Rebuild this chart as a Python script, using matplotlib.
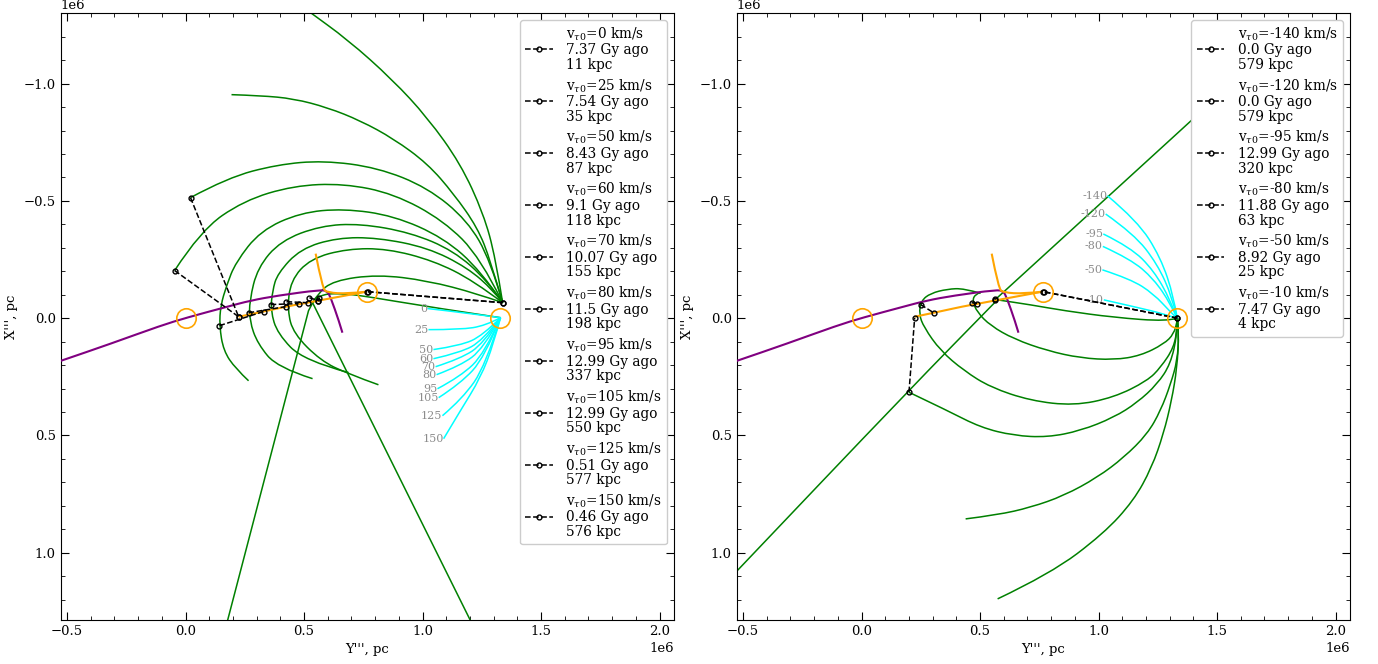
import matplotlib
matplotlib.use("Agg")
import matplotlib.pyplot as plt
from matplotlib.ticker import MultipleLocator
from matplotlib.path import Path
from matplotlib.patches import PathPatch

plt.rcParams["font.family"] = "DejaVu Serif"
plt.rcParams["mathtext.fontset"] = "dejavuserif"
plt.rcParams["font.size"] = 9.5

PC = 1e6  # all coordinates below are in units of 1e6 pc

# ---- tracks common to both panels
purple_x = [-0.611, -0.523, -0.316, -0.105, 0.004, 0.177, 0.274, 0.388, 0.570, 0.598, 0.612, 0.647, 0.662]
purple_y = [0.211, 0.181, 0.109, 0.032, -0.002, -0.049, -0.075, -0.096, -0.121, -0.115, -0.089, 0.011, 0.062]
orange_x = [0.224, 0.329, 0.422, 0.515, 0.561, 0.764]
orange_y = [-0.006, -0.028, -0.049, -0.066, -0.075, -0.113]
orange_hook_x = [0.549, 0.578, 0.599, 0.684, 0.764]
orange_hook_y = [-0.275, -0.126, -0.109, -0.104, -0.113]

# ---- left panel: v_tau0 >= 0
left_vel = [0, 25, 50, 60, 70, 80, 95, 105, 125, 150]
left_ago = [7.37, 7.54, 8.43, 9.1, 10.07, 11.5, 12.99, 12.99, 0.51, 0.46]
left_dist = [11, 35, 87, 118, 155, 198, 337, 550, 577, 576]
left_gal_x = [0.565, 0.523, 0.426, 0.359, 0.266, 0.143, -0.046, 0.021, 1.338, 1.338]
left_gal_y = [-0.087, -0.087, -0.070, -0.058, -0.023, 0.032, -0.203, -0.514, -0.066, -0.066]
left_m31_x = [0.561, 0.561, 0.515, 0.477, 0.422, 0.329, 0.224, 0.224, 0.764, 0.768]
left_m31_y = [-0.075, -0.075, -0.066, -0.062, -0.049, -0.028, -0.006, -0.006, -0.113, -0.113]
left_circ_x = [0.0, 0.764, 1.329]
left_circ_y = [0.0, -0.113, -0.002]

left_orbit_x = {
    0: [1.370, 0.536, 0.536, 0.578, 0.675, 0.768, 1.046, 1.329],
    25: [0.089, 0.519, 0.519, 0.557, 0.624, 0.810, 1.021, 1.232, 1.338],
    50: [0.814, 0.684, 0.570, 0.456, 0.430, 0.443, 0.527, 0.684, 0.852, 1.046, 1.215, 1.338],
    60: [0.688, 0.498, 0.388, 0.359, 0.367, 0.388, 0.485, 0.641, 0.810, 1.021, 1.190, 1.300, 1.338],
    70: [0.536, 0.388, 0.304, 0.270, 0.270, 0.304, 0.401, 0.570, 0.738, 0.949, 1.131, 1.274, 1.338],
    80: [0.266, 0.211, 0.160, 0.143, 0.148, 0.173, 0.211, 0.316, 0.485, 0.667, 0.878, 1.089, 1.245, 1.338],
    95: [-0.046, 0.063, 0.245, 0.456, 0.667, 0.878, 1.089, 1.245, 1.338],
    105: [0.021, 0.177, 0.388, 0.582, 0.810, 1.021, 1.190, 1.287, 1.338],
    125: [0.194, 0.316, 0.456, 0.599, 0.738, 0.878, 1.021, 1.131, 1.232, 1.287, 1.338],
    150: [0.443, 0.515, 0.684, 0.873, 1.021, 1.160, 1.257, 1.308, 1.338],
}
left_orbit_y = {
    0: [1.631, -0.066, -0.066, -0.104, -0.104, -0.092, -0.045, -0.002],
    25: [1.631, -0.032, -0.032, -0.104, -0.160, -0.186, -0.160, -0.104, -0.066],
    50: [0.284, 0.237, 0.181, 0.066, -0.032, -0.160, -0.254, -0.296, -0.296, -0.245, -0.160, -0.066],
    60: [0.232, 0.181, 0.066, -0.032, -0.117, -0.190, -0.296, -0.343, -0.343, -0.301, -0.215, -0.117, -0.066],
    70: [0.258, 0.211, 0.109, 0.011, -0.075, -0.215, -0.330, -0.394, -0.403, -0.365, -0.288, -0.160, -0.066],
    80: [0.267, 0.215, 0.139, 0.032, -0.053, -0.139, -0.237, -0.373, -0.450, -0.467, -0.437, -0.343, -0.203, -0.066],
    95: [-0.203, -0.373, -0.501, -0.565, -0.574, -0.531, -0.416, -0.258, -0.066],
    105: [-0.514, -0.599, -0.655, -0.672, -0.642, -0.557, -0.416, -0.245, -0.066],
    125: [-0.953, -0.949, -0.936, -0.898, -0.842, -0.765, -0.659, -0.531, -0.386, -0.245, -0.066],
    150: [-1.367, -1.311, -1.188, -1.017, -0.855, -0.659, -0.446, -0.258, -0.066],
}
left_start_x = {
    0: [1.021, 1.181, 1.329],
    25: [1.025, 1.160, 1.266, 1.329],
    50: [1.046, 1.160, 1.253, 1.329],
    60: [1.046, 1.160, 1.253, 1.329],
    70: [1.055, 1.160, 1.257, 1.329],
    80: [1.059, 1.160, 1.257, 1.329],
    95: [1.063, 1.160, 1.262, 1.329],
    105: [1.068, 1.160, 1.262, 1.329],
    125: [1.084, 1.169, 1.266, 1.329],
    150: [1.089, 1.160, 1.245, 1.300, 1.329],
}
left_start_y = {
    0: [-0.041, -0.023, -0.002],
    25: [0.049, 0.049, 0.032, -0.002],
    50: [0.134, 0.117, 0.075, -0.002],
    60: [0.173, 0.147, 0.096, -0.002],
    70: [0.207, 0.173, 0.109, -0.002],
    80: [0.241, 0.203, 0.130, -0.002],
    95: [0.301, 0.249, 0.151, -0.002],
    105: [0.339, 0.279, 0.168, -0.002],
    125: [0.416, 0.343, 0.203, -0.002],
    150: [0.514, 0.394, 0.254, 0.109, -0.002],
}

# ---- right panel: v_tau0 < 0
right_vel = [-140, -120, -95, -80, -50, -10]
right_ago = [0.0, 0.0, 12.99, 11.88, 8.92, 7.47]
right_dist = [579, 579, 320, 63, 25, 4]
right_gal_x = [1.333, 1.333, 0.200, 0.249, 0.464, 0.565]
right_gal_y = [0.0, 0.0, 0.316, -0.058, -0.066, -0.083]
right_m31_x = [0.768, 0.764, 0.224, 0.304, 0.489, 0.561]
right_m31_y = [-0.113, -0.113, -0.002, -0.023, -0.062, -0.079]
right_circ_x = [0.0, 0.764, 1.333]
right_circ_y = [0.0, -0.113, 0.0]

right_orbit_x = {
    -140: [1.333, 1.339, 1.331, 1.308, 1.274, 1.224, 1.148, 1.021, 0.797, 0.574],
    -120: [1.333, 1.339, 1.332, 1.304, 1.262, 1.206, 1.107, 0.995, 0.854, 0.713, 0.573, 0.439],
    -95: [1.333, 1.332, 1.304, 1.248, 1.163, 1.065, 0.924, 0.784, 0.643, 0.502, 0.362, 0.200],
    -80: [1.333, 1.332, 1.318, 1.262, 1.206, 1.065, 0.896, 0.713, 0.544, 0.432, 0.333, 0.263,
          0.242, 0.252, 0.291, 0.362, 0.432, 0.502],
    -50: [1.333, 1.332, 1.318, 1.276, 1.177, 1.065, 0.924, 0.784, 0.643, 0.544, 0.488, 0.467, 0.481, 0.502],
    -10: [1.333, 1.291, 1.065, 0.854, 0.713, 0.573, 0.573, 0.198, -0.525, -0.681],
}
right_orbit_y = {
    -140: [0.0, 0.067, 0.212, 0.352, 0.493, 0.638, 0.778, 0.919, 1.090, 1.197],
    -120: [0.0, 0.067, 0.181, 0.281, 0.394, 0.494, 0.594, 0.679, 0.757, 0.807, 0.839, 0.856],
    -95: [0.0, 0.067, 0.195, 0.281, 0.360, 0.423, 0.480, 0.508, 0.501, 0.466, 0.394, 0.316],
    -80: [0.0, 0.039, 0.125, 0.210, 0.267, 0.338, 0.373, 0.352, 0.295, 0.224, 0.139, 0.039,
          -0.018, -0.075, -0.106, -0.124, -0.127, -0.106],
    -50: [0.0, 0.011, 0.067, 0.110, 0.160, 0.178, 0.170, 0.139, 0.089, 0.032, -0.025, -0.075, -0.103, -0.110],
    -10: [0.0, 0.014, -0.003, -0.032, -0.057, -0.078, -0.078, 0.309, 1.077, 1.243],
}
right_escape_x = [0.565, 1.401, 1.852]
right_escape_y = [-0.080, -0.851, -1.269]
right_start_x = {
    -140: [1.037, 1.163, 1.262, 1.318, 1.332],
    -120: [1.030, 1.149, 1.248, 1.311, 1.332],
    -95: [1.020, 1.135, 1.233, 1.304, 1.332],
    -80: [1.018, 1.135, 1.233, 1.304, 1.332],
    -50: [1.016, 1.135, 1.233, 1.304, 1.332],
    -10: [1.022, 1.163, 1.276, 1.332],
}
right_start_y = {
    -140: [-0.522, -0.416, -0.259, -0.089, 0.001],
    -120: [-0.444, -0.359, -0.231, -0.089, 0.001],
    -95: [-0.359, -0.302, -0.203, -0.075, 0.001],
    -80: [-0.306, -0.252, -0.167, -0.061, 0.001],
    -50: [-0.206, -0.167, -0.103, -0.025, 0.001],
    -10: [-0.078, -0.046, -0.018, 0.001],
}


def sc(vals):
    return [v * PC for v in vals]


def curve(ax, xs, ys, color, lw, z=2):
    # quadratic bezier through the read points (points act as control points)
    pts = list(zip(sc(xs), sc(ys)))
    verts = [pts[0]]
    codes = [Path.MOVETO]
    if len(pts) == 2:
        verts.append(pts[1])
        codes.append(Path.LINETO)
    for i in range(1, len(pts) - 1):
        p, q = pts[i], pts[i + 1]
        end = q if i == len(pts) - 2 else ((p[0] + q[0]) / 2, (p[1] + q[1]) / 2)
        verts += [p, end]
        codes += [Path.CURVE3, Path.CURVE3]
    ax.add_patch(PathPatch(Path(verts, codes), fill=False, edgecolor=color,
                           lw=lw, zorder=z, capstyle="butt", joinstyle="round"))


def draw_panel(ax, vel, ago, dist, gx, gy, mx, my, orb_x, orb_y, st_x, st_y, cx, cy):
    for v in vel:
        curve(ax, orb_x[v], orb_y[v], "green", 1.1)
    for v in vel:
        curve(ax, st_x[v], st_y[v], "cyan", 1.1)
        ax.text(st_x[v][0] * PC, st_y[v][0] * PC, str(v), color="#8c8c8c",
                fontsize=8, ha="right", va="center", zorder=3)
    curve(ax, purple_x, purple_y, "purple", 1.5, 3)
    curve(ax, orange_x, orange_y, "orange", 1.5, 3)
    curve(ax, orange_hook_x, orange_hook_y, "orange", 1.5, 3)
    for i, v in enumerate(vel):
        label = "v$_{\\tau0}$=%d km/s\n%s Gy ago\n%d kpc" % (v, ago[i], dist[i])
        ax.plot([gx[i] * PC, mx[i] * PC], [gy[i] * PC, my[i] * PC], "--o",
                color="k", lw=1.1, ms=3.5, mfc="none", mew=1.0, label=label, zorder=4)
    ax.plot(sc(cx), sc(cy), "o", ms=14, mfc="none", mec="orange", mew=1.2, zorder=5)

    ax.set_xlim(-0.527 * PC, 2.061 * PC)
    ax.set_ylim(1.287 * PC, -1.30 * PC)
    ax.xaxis.set_major_locator(MultipleLocator(0.5 * PC))
    ax.yaxis.set_major_locator(MultipleLocator(0.5 * PC))
    ax.xaxis.set_minor_locator(MultipleLocator(0.1 * PC))
    ax.yaxis.set_minor_locator(MultipleLocator(0.1 * PC))
    ax.tick_params(which="both", direction="in", top=True, right=True)
    ax.tick_params(which="major", length=6)
    ax.tick_params(which="minor", length=3)
    ax.set_xlabel("Y''', pc")
    ax.set_ylabel("X''', pc")
    leg = ax.legend(loc="upper right", fontsize=9.8, labelspacing=0.42,
                    handletextpad=1.0, framealpha=1.0)
    for t in leg.get_texts():
        t.set_linespacing(1.05)


fig = plt.figure(figsize=(13.78, 6.64), dpi=100)
ax1 = fig.add_axes([0.044, 0.0663, 0.4451, 0.9137])
ax2 = fig.add_axes([0.5346, 0.0663, 0.4451, 0.9137])

draw_panel(ax1, left_vel, left_ago, left_dist, left_gal_x, left_gal_y, left_m31_x, left_m31_y,
           left_orbit_x, left_orbit_y, left_start_x, left_start_y, left_circ_x, left_circ_y)
curve(ax2, right_escape_x, right_escape_y, "green", 1.1)
draw_panel(ax2, right_vel, right_ago, right_dist, right_gal_x, right_gal_y, right_m31_x, right_m31_y,
           right_orbit_x, right_orbit_y, right_start_x, right_start_y, right_circ_x, right_circ_y)

fig.savefig("out.png", dpi=100)
